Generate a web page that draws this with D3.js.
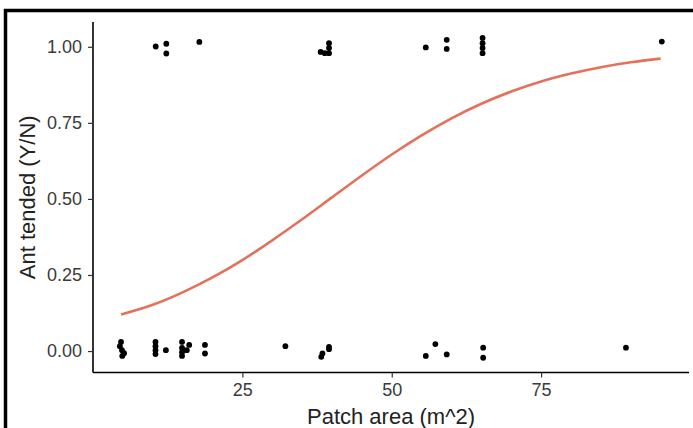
<!DOCTYPE html>
<html>
<head>
<meta charset="utf-8">
<script src="https://cdn.jsdelivr.net/npm/d3@7/dist/d3.min.js"></script>
<style>
  html, body { margin: 0; padding: 0; background: #fff; }
  svg { display: block; font-family: "Liberation Sans", Arial, sans-serif; }
</style>
</head>
<body>
<svg id="chart" width="693" height="428"></svg>
<script>
// Observed points (patch area, ant tended with vertical jitter)
const pointX = [
  10.5, 12.27, 12.27, 17.8, 38.1, 38.8, 39.5, 39.5, 39.5,
  55.7, 59.2, 59.2, 65.2, 65.2, 65.2, 65.2, 95.2,
  4.69, 4.5, 4.85, 5.2, 4.9,
  10.46, 10.46, 10.46, 10.46, 12.2,
  14.9, 14.9, 14.9, 14.9, 16.1, 15.7,
  18.74, 18.74,
  32.2, 38.2, 38.4, 39.5, 39.5,
  55.7, 57.3, 59.2, 65.3, 65.3, 89.2
];
const pointY = [
  1.001, 1.010, 0.978, 1.016, 0.983, 0.979, 1.012, 0.996, 0.979,
  0.998, 1.023, 0.993, 1.029, 1.012, 0.996, 0.979, 1.017,
  0.030, 0.016, 0.003, -0.007, -0.016,
  0.030, 0.016, 0.003, -0.010, 0.003,
  0.030, 0.010, -0.004, -0.016, 0.020, 0.003,
  0.020, -0.008,
  0.016, -0.019, -0.008, 0.006, 0.014,
  -0.016, 0.023, -0.011, 0.011, -0.022, 0.011
];

// Fitted curve
const curveX = [4.7, 10, 15, 20, 25, 30, 35, 40, 45, 50, 55, 60, 65, 70, 75, 80, 85, 90, 95];
const curveY = [0.120, 0.152, 0.193, 0.242, 0.299, 0.364, 0.433, 0.505, 0.577, 0.646, 0.709, 0.765, 0.813, 0.853, 0.886, 0.912, 0.933, 0.949, 0.961];

const xTicks = [25, 50, 75];
const yTicks = [0, 0.25, 0.5, 0.75, 1.0];
const xTitle = "Patch area (m^2)";
const yTitle = "Ant tended (Y/N)";

const svg = d3.select("#chart");
const pLeft = 93, pRight = 689, pTop = 22, pBottom = 372.5;

const x = d3.scaleLinear().domain([0, 99.75]).range([pLeft, pRight]);
const y = d3.scaleLinear().domain([-0.0705, 1.0815]).range([pBottom, pTop]);

// outer frame
svg.append("path")
  .attr("d", `M5.5,440 V10.5 H700`)
  .attr("fill", "none")
  .attr("stroke", "#000")
  .attr("stroke-width", 3.5);

// axes
const xAxis = d3.axisBottom(x).tickValues(xTicks).tickSize(5).tickPadding(6).tickFormat(d3.format("d"));
const yAxis = d3.axisLeft(y).tickValues(yTicks).tickSize(5).tickPadding(6).tickFormat(d3.format(".2f"));

const gx = svg.append("g").attr("transform", `translate(0,${pBottom})`).call(xAxis);
const gy = svg.append("g").attr("transform", `translate(${pLeft},0)`).call(yAxis);

[gx, gy].forEach(g => {
  g.select(".domain").attr("stroke", "#000").attr("stroke-width", 1.6);
  g.selectAll(".tick line").attr("stroke", "#333").attr("stroke-width", 1.2);
  g.selectAll(".tick text")
    .attr("fill", "#3a3a3a")
    .style("font-size", "18px")
    .style("font-family", '"Liberation Sans", Arial, sans-serif');
});
gx.select(".domain").attr("d", `M${pLeft},0H${pRight}`);
gy.select(".domain").attr("d", `M0,${pTop}V${pBottom}`);

// curve
const line = d3.line().x(d => x(d[0])).y(d => y(d[1])).curve(d3.curveMonotoneX);
svg.append("path")
  .datum(curveX.map((v, i) => [v, curveY[i]]))
  .attr("d", line)
  .attr("fill", "none")
  .attr("stroke", "#E3715C")
  .attr("stroke-width", 2.6);

// points
svg.append("g").selectAll("circle")
  .data(pointX.map((v, i) => [v, pointY[i]]))
  .join("circle")
  .attr("cx", d => x(d[0]))
  .attr("cy", d => y(d[1]))
  .attr("r", 2.9)
  .attr("fill", "#000");

// titles
svg.append("text")
  .attr("x", (pLeft + pRight) / 2)
  .attr("y", 424)
  .attr("text-anchor", "middle")
  .attr("fill", "#222")
  .style("font-size", "22px")
  .text(xTitle);

svg.append("text")
  .attr("transform", `translate(35,${(pTop + pBottom) / 2}) rotate(-90)`)
  .attr("text-anchor", "middle")
  .attr("fill", "#222")
  .style("font-size", "22px")
  .text(yTitle);
</script>
</body>
</html>
